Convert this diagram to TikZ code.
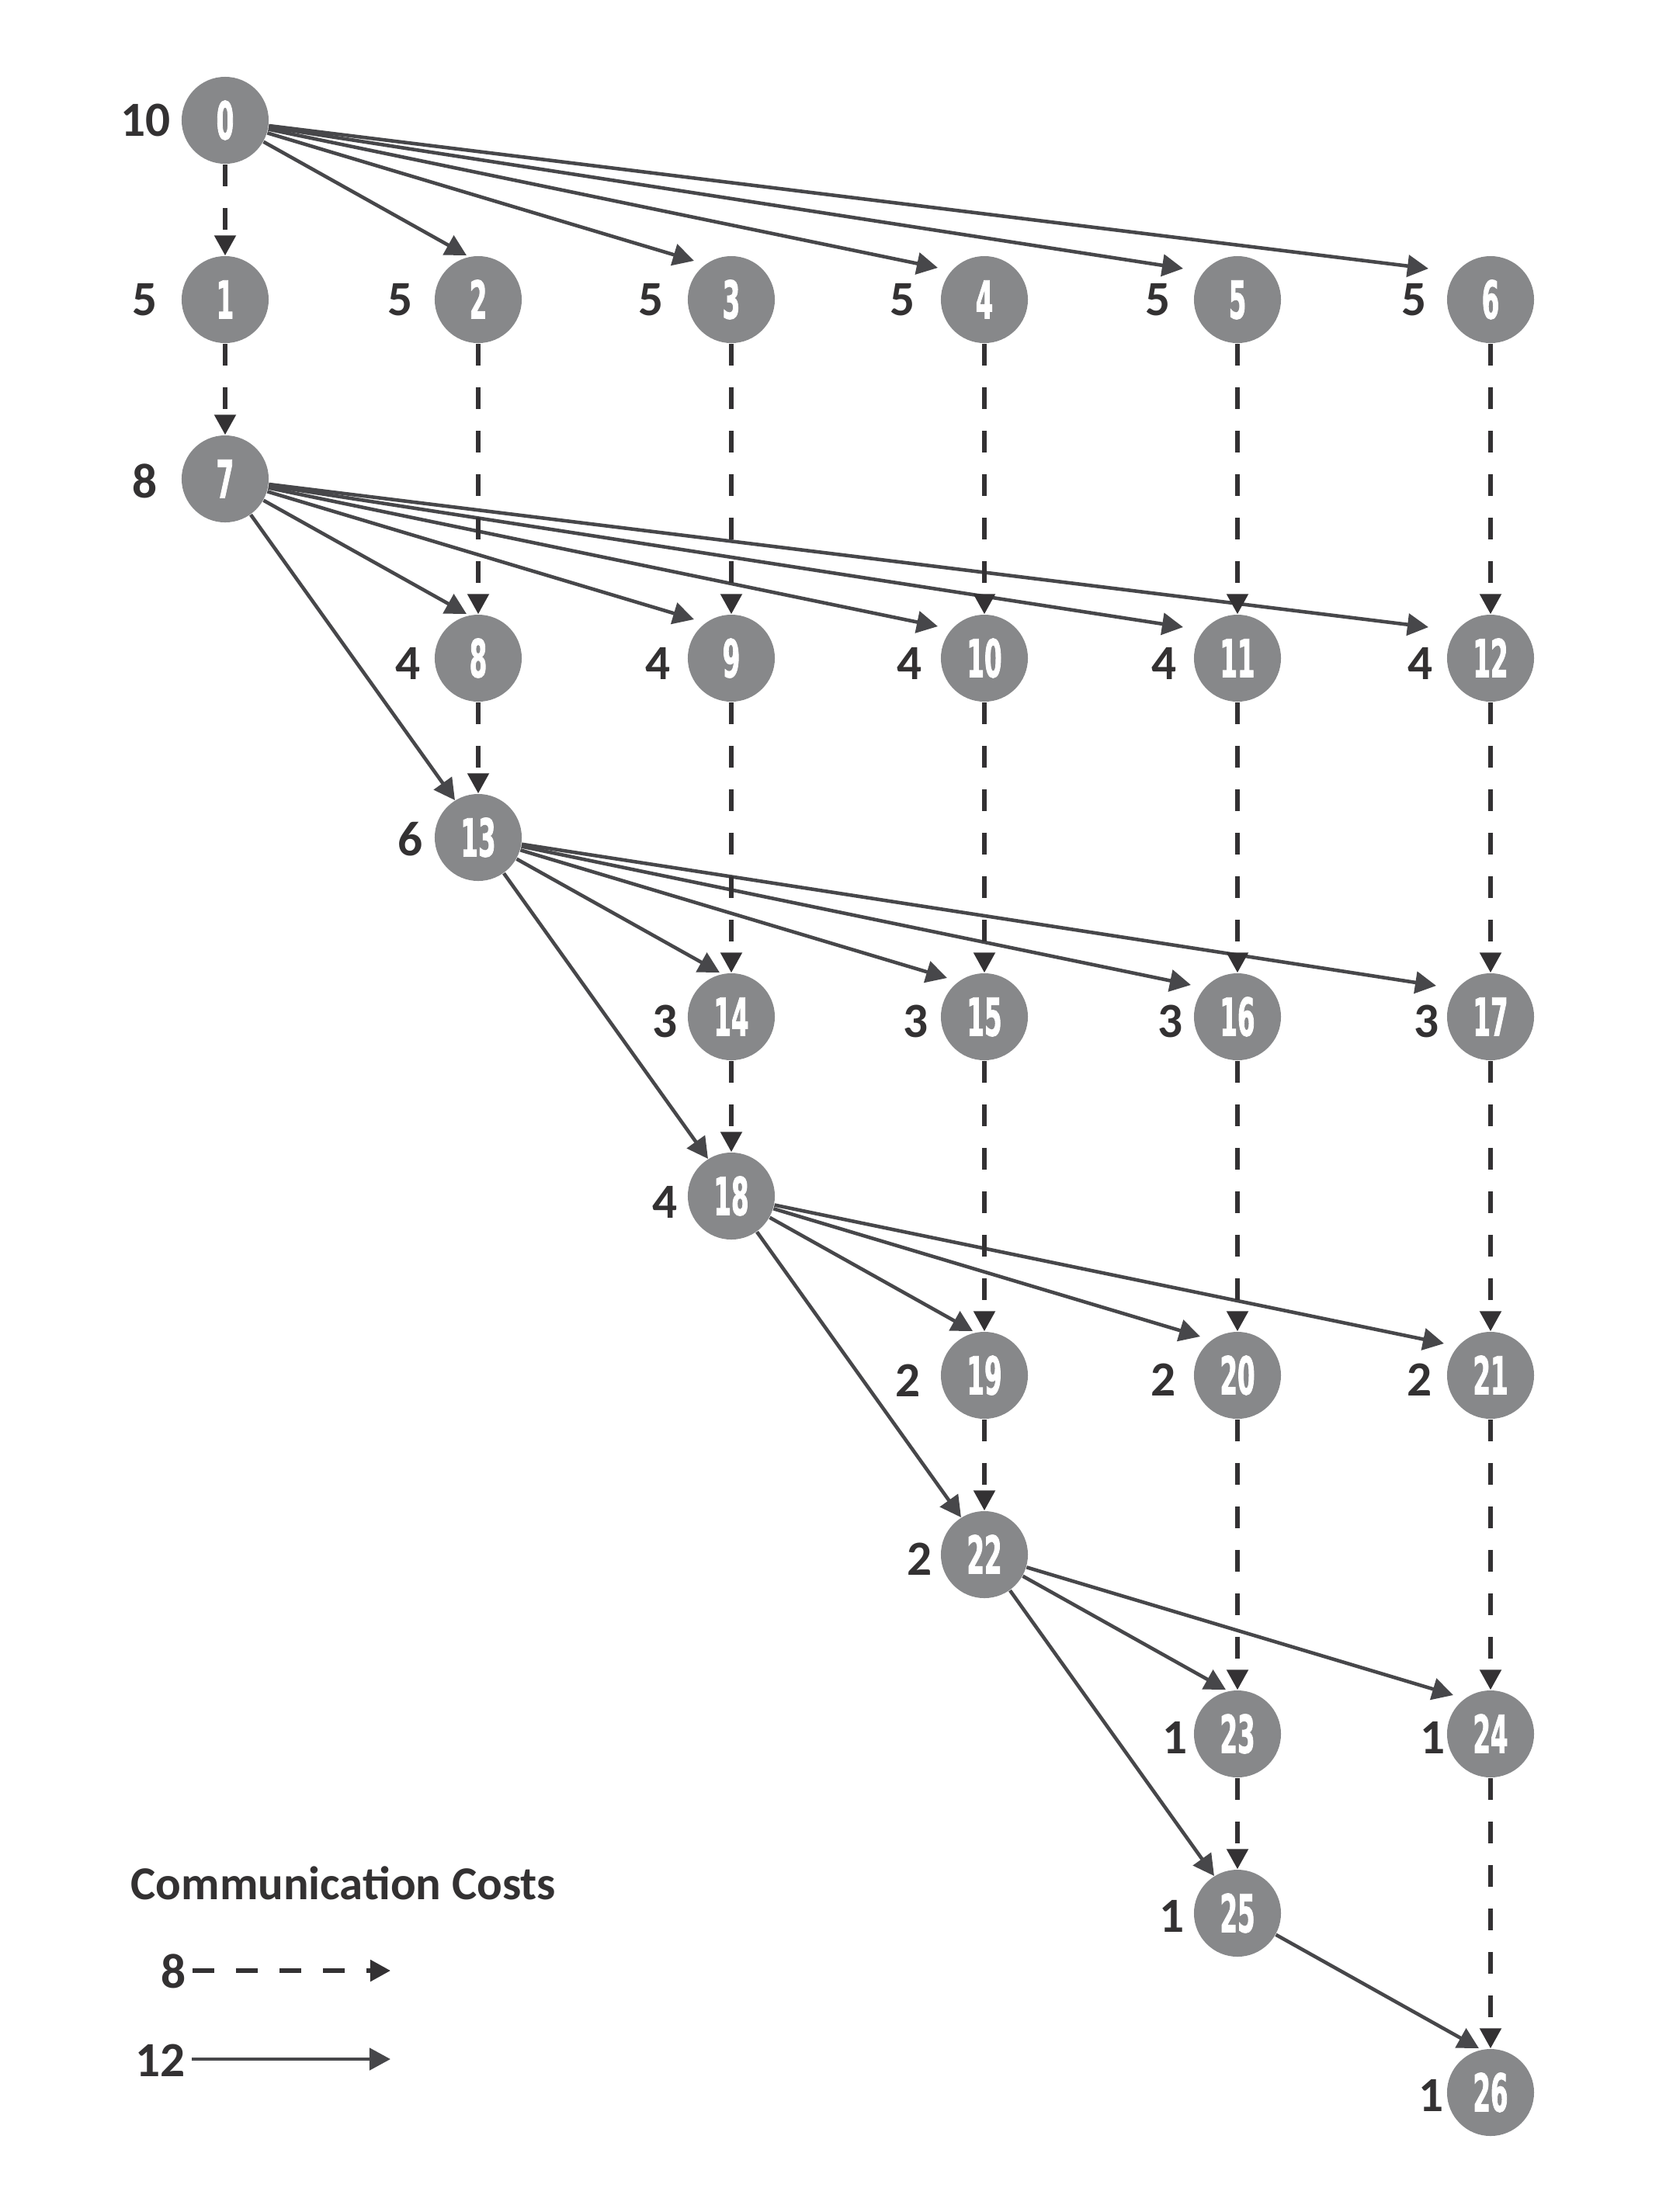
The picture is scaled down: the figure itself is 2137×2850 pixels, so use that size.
\documentclass[tikz,border=0pt]{standalone}
\usepackage{fontspec}
\usepackage{graphicx}
\usetikzlibrary{arrows.meta,calc}
\newfontfamily\lblfam{Carlito}
\newfontfamily\numfam{DejaVu Sans}[FakeStretch=0.48,FakeBold=1.2]
\definecolor{nodegray}{HTML}{87888A}
\definecolor{solidgray}{HTML}{47474A}
\definecolor{dashgray}{HTML}{333133}
\definecolor{labelgray}{HTML}{333132}
\begin{document}
\begin{tikzpicture}[x=0.01cm,y=-0.01cm,
  task/.style={circle, fill=nodegray, minimum size=1.12cm, inner sep=0pt, text=white,
    font=\numfam\bfseries\fontsize{19.2}{20}\selectfont, text height=0.49cm, text depth=0pt},
  wlabel/.style={anchor=east, inner sep=0pt, text=labelgray,
    font=\lblfam\bfseries\fontsize{18}{20}\selectfont, text height=0.40cm, text depth=0pt},
  comm/.style={draw=solidgray, line width=1.3pt, -{Triangle[length=0.27cm,width=0.28cm]}},
  commd/.style={draw=dashgray, line width=1.5pt, dash pattern=on 0.28cm off 0.28cm,
    -{Triangle[length=0.26cm,width=0.27cm]}},
  legtitle/.style={anchor=base west, inner sep=0pt, text=labelgray,
    font=\lblfam\bfseries\fontsize{17.3}{20}\selectfont}
]
\useasboundingbox (0,0) rectangle (2137,2850);

% task nodes
\foreach \n/\c/\r in {0/0/0, 1/0/1, 2/1/1, 3/2/1, 4/3/1, 5/4/1, 6/5/1, 7/0/2,
  8/1/3, 9/2/3, 10/3/3, 11/4/3, 12/5/3, 13/1/4, 14/2/5, 15/3/5, 16/4/5, 17/5/5,
  18/2/6, 19/3/7, 20/4/7, 21/5/7, 22/3/8, 23/4/9, 24/5/9, 25/4/10, 26/5/11}
  \node[task] (n\n) at ({290+326*\c},{155+231*\r}) {\n};

% computation cost labels
\foreach \n/\w/\g/\v in {0/10/70/0, 1/5/87/0, 2/5/84/0, 3/5/87/0, 4/5/89/0, 5/5/86/0, 6/5/82/0,
  7/8/87/4, 8/4/74/7, 9/4/78/7, 10/4/80/7, 11/4/78/7, 12/4/74/7, 13/6/71/3,
  14/3/69/6, 15/3/72/6, 16/3/70/6, 17/3/66/6, 18/4/69/8, 19/2/82/7, 20/2/79/6, 21/2/75/6,
  22/2/67/6, 23/1/64/5, 24/1/58/5, 25/1/68/4, 26/1/60/4}
  \node[wlabel] (w\n) at ($(n\n)+(-\g,\v)$) {\w};

% communication cost 12 (solid)
\foreach \s/\t/\dx/\dy in {0/2/-15/-57, 0/3/-48/-50, 0/4/-60/-41, 0/5/-70/-40, 0/6/-80/-40,
  7/8/-15/-57, 7/9/-48/-50, 7/10/-60/-41, 7/11/-70/-40, 7/12/-80/-40, 7/13/-30/-48,
  13/14/-15/-57, 13/15/-48/-50, 13/16/-60/-41, 13/17/-70/-40, 13/18/-30/-48,
  18/19/-15/-57, 18/20/-48/-50, 18/21/-60/-41, 18/22/-30/-48,
  22/23/-15/-57, 22/24/-48/-50, 22/25/-30/-48, 25/26/-15/-57}
  \draw[comm] (n\s) -- ($(n\t)+(\dx,\dy)$);

% communication cost 8 (dashed)
\foreach \s/\t in {0/1, 1/7, 2/8, 3/9, 4/10, 5/11, 6/12, 8/13, 9/14, 10/15, 11/16, 12/17,
  14/18, 15/19, 16/20, 17/21, 19/22, 20/23, 21/24, 23/25, 24/26}
  \draw[commd] (n\s.south) -- (n\t.north);

% legend
\node[legtitle] (legt) at (168,2447) {Communication Costs};
\node[wlabel] (l8) at (240,2541) {8};
\node[wlabel] (l12) at (239,2655) {12};
\coordinate (e8) at (503,2539);
\coordinate (e12) at (503,2653);
\draw[commd] ([xshift=0.08cm]l8.east |- e8) -- (e8);
\draw[comm] ([xshift=0.08cm]l12.east |- e12) -- (e12);
\end{tikzpicture}
\end{document}
